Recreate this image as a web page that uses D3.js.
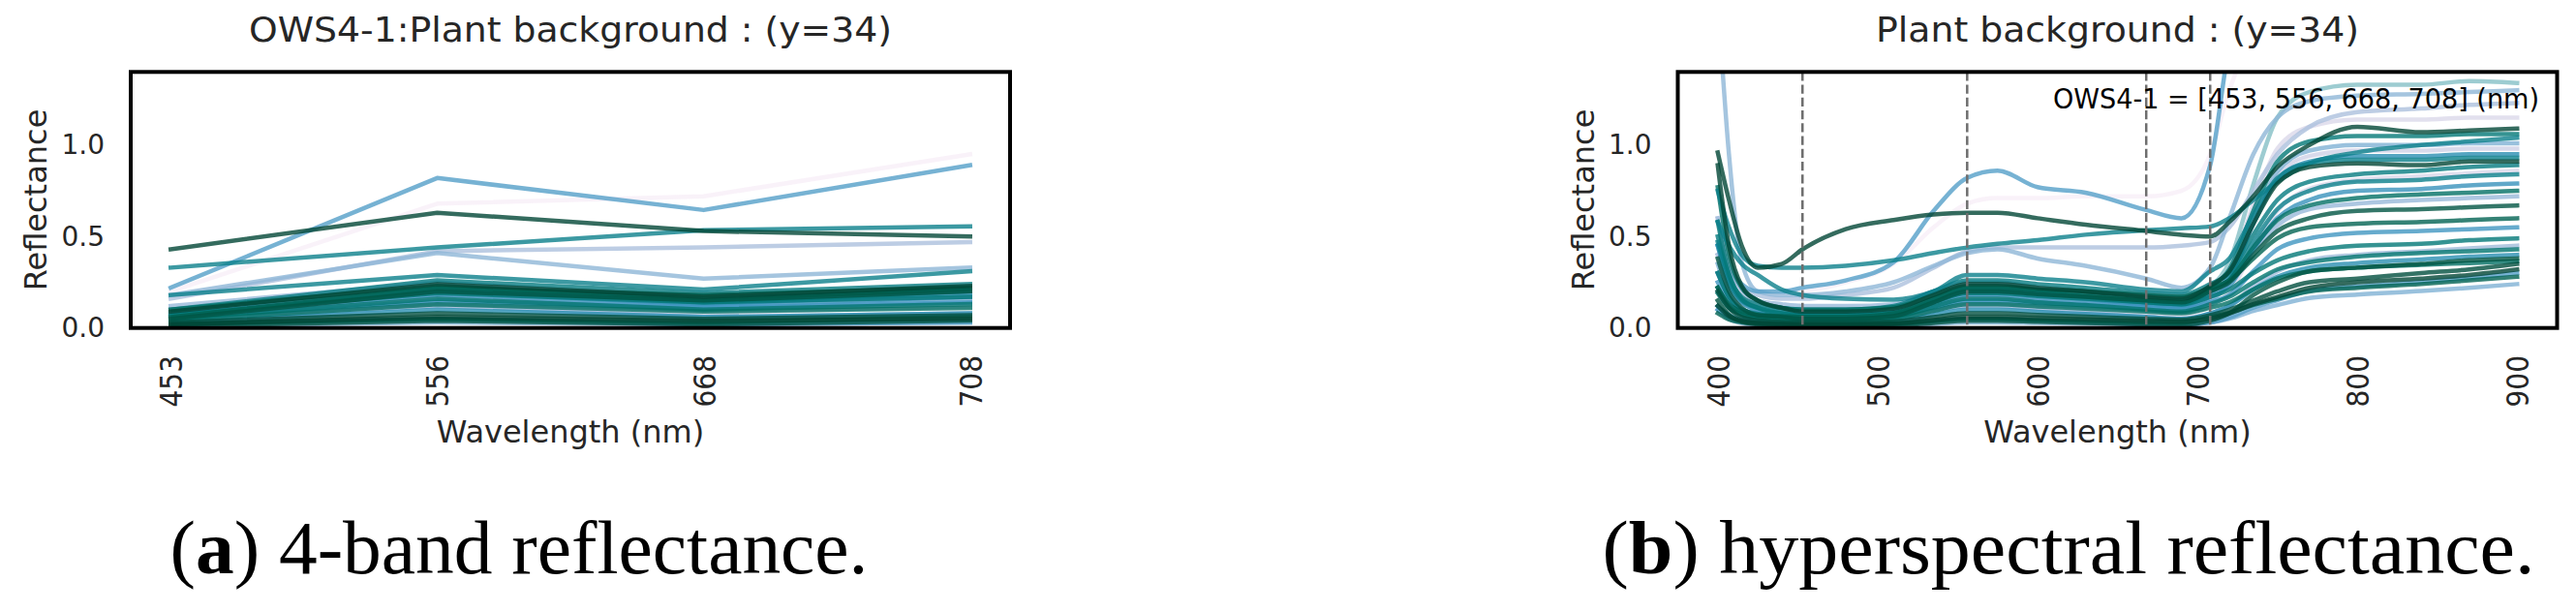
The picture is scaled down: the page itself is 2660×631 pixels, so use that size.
<!DOCTYPE html>
<html><head><meta charset="utf-8">
<script src="https://cdn.jsdelivr.net/npm/d3@7"></script>
<style>body{margin:0;background:#fff;} svg{display:block;}</style>
</head><body>
<svg id="chart" width="2660" height="631"></svg>
<script>
// ---------------- data ----------------
const wavelengths = [400,407,415,425,440,453,480,510,535,556,575,600,630,668,690,708,720,735,750,770,800,840,870,900];
const bandWavelengths = [453,556,668,708];
const bandLabels = ["453","556","668","708"];
const hyperTicks = [400,500,600,700,800,900];
const yTicks = [0.0,0.5,1.0];
const sensorName = "OWS4-1";
const className = "Plant background";
const rowIndex = 34;

const spec_pk  = [0.3,0.26,0.22,0.2,0.19,0.2,0.25,0.35,0.55,0.68,0.71,0.71,0.72,0.72,0.75,0.95,1.3,1.6,1.7,1.7,1.7,1.7,1.7,1.7];
const spec_LT  = [0.45,0.25,0.15,0.106,0.087,0.08,0.08,0.092,0.152,0.2,0.2,0.182,0.164,0.14,0.13,0.22,0.36,0.785,1.15,1.29,1.33,1.33,1.35,1.34];
const spec_L1  = [0.6,0.325,0.19,0.135,0.11,0.1,0.1,0.11,0.16,0.2,0.2,0.176,0.152,0.12,0.11,0.2,0.31,0.675,0.98,1.1,1.14,1.14,1.15,1.15];
const spec_L2  = [0.4,0.224,0.138,0.102,0.086,0.08,0.08,0.089,0.134,0.17,0.17,0.149,0.128,0.1,0.09,0.16,0.26,0.57,0.83,0.94,0.97,0.97,0.98,0.98];
const spec_L3  = [0.3,0.168,0.103,0.077,0.065,0.06,0.06,0.066,0.096,0.12,0.12,0.108,0.096,0.08,0.07,0.12,0.194,0.43,0.64,0.76,0.81,0.83,0.845,0.86];
const spec_p2  = [0.4,0.3,0.22,0.18,0.16,0.16,0.18,0.22,0.33,0.42,0.44,0.44,0.44,0.44,0.45,0.47,0.55,0.75,0.95,1.1,1.18,1.2,1.22,1.23];
const spec_p1  = [1.8,0.95,0.36,0.2,0.18,0.18,0.2,0.25,0.34,0.41,0.43,0.38,0.34,0.27,0.22,0.33,0.6,0.95,1.15,1.24,1.27,1.28,1.29,1.3];
const spec_lb1 = [0.45,0.32,0.24,0.2,0.2,0.22,0.26,0.36,0.64,0.82,0.86,0.77,0.74,0.645,0.6,0.89,1.55,2.0,2.1,2.1,2.1,2.1,2.1,2.1];
const spec_PB2 = [0.6,0.34,0.21,0.15,0.13,0.12,0.12,0.13,0.2,0.25,0.25,0.22,0.2,0.16,0.15,0.2,0.25,0.42,0.56,0.65,0.68,0.7,0.71,0.72];
const spec_PB1 = [0.35,0.185,0.104,0.071,0.056,0.05,0.05,0.059,0.104,0.14,0.14,0.128,0.116,0.1,0.09,0.15,0.25,0.58,0.855,0.97,1.0,1.0,1.01,1.01];
const spec_PB3 = [0.2,0.11,0.07,0.05,0.045,0.04,0.04,0.05,0.09,0.12,0.12,0.1,0.085,0.06,0.05,0.08,0.12,0.23,0.31,0.37,0.4,0.42,0.435,0.45];
const spec_PB4 = [0.1,0.05,0.026,0.016,0.012,0.01,0.01,0.012,0.022,0.03,0.03,0.027,0.024,0.02,0.018,0.03,0.051,0.093,0.125,0.164,0.183,0.202,0.219,0.24];
const spec_PB5 = [0.1,0.056,0.034,0.026,0.022,0.02,0.02,0.023,0.038,0.05,0.05,0.041,0.032,0.02,0.018,0.03,0.057,0.111,0.152,0.203,0.227,0.251,0.273,0.3];
const spec_BL4 = [0.45,0.24,0.14,0.097,0.078,0.07,0.07,0.083,0.148,0.2,0.2,0.179,0.158,0.13,0.12,0.19,0.28,0.57,0.81,0.91,0.94,0.94,0.95,0.95];
const spec_BL1 = [0.3,0.17,0.1,0.08,0.065,0.06,0.06,0.07,0.13,0.18,0.18,0.16,0.14,0.12,0.11,0.17,0.23,0.43,0.6,0.7,0.75,0.76,0.78,0.79];
const spec_BL3 = [0.25,0.14,0.086,0.064,0.054,0.05,0.05,0.06,0.11,0.15,0.15,0.138,0.126,0.11,0.1,0.14,0.18,0.31,0.43,0.49,0.52,0.53,0.54,0.55];
const spec_BL2 = [0.12,0.07,0.046,0.036,0.032,0.03,0.03,0.037,0.072,0.1,0.1,0.088,0.076,0.06,0.05,0.08,0.12,0.21,0.28,0.33,0.355,0.375,0.39,0.4];
const spec_T10 = [0.3,0.17,0.1,0.077,0.065,0.06,0.06,0.075,0.15,0.21,0.21,0.192,0.174,0.15,0.14,0.22,0.32,0.64,0.91,1.02,1.05,1.05,1.06,1.06];
const spec_T4  = [0.5,0.28,0.17,0.13,0.11,0.1,0.1,0.12,0.2,0.26,0.26,0.24,0.22,0.19,0.18,0.24,0.3,0.51,0.7,0.8,0.84,0.86,0.88,0.89];
const spec_T5  = [0.47,0.26,0.15,0.11,0.09,0.08,0.08,0.09,0.16,0.22,0.22,0.2,0.17,0.14,0.13,0.2,0.26,0.47,0.65,0.75,0.8,0.81,0.83,0.84];
const spec_T9  = [0.77,0.4,0.22,0.15,0.11,0.1,0.1,0.113,0.178,0.23,0.23,0.209,0.188,0.16,0.15,0.21,0.264,0.44,0.59,0.67,0.71,0.73,0.74,0.75];
const spec_T6  = [0.58,0.3,0.16,0.11,0.08,0.07,0.07,0.08,0.14,0.19,0.19,0.175,0.16,0.14,0.13,0.17,0.21,0.3,0.37,0.42,0.45,0.46,0.48,0.49];
const spec_T7  = [0.19,0.11,0.075,0.06,0.053,0.05,0.05,0.061,0.116,0.16,0.16,0.14,0.125,0.1,0.09,0.13,0.17,0.25,0.32,0.36,0.39,0.41,0.42,0.43];
const spec_T8  = [0.22,0.12,0.072,0.053,0.044,0.04,0.04,0.049,0.094,0.13,0.13,0.118,0.106,0.09,0.08,0.11,0.14,0.21,0.27,0.31,0.33,0.345,0.355,0.365];
const spec_t2  = [0.58,0.45,0.35,0.29,0.21,0.18,0.16,0.155,0.2,0.29,0.29,0.27,0.25,0.21,0.2,0.31,0.38,0.62,0.82,0.9,0.92,0.92,0.93,0.93];
const spec_t1  = [0.75,0.55,0.4,0.34,0.33,0.33,0.34,0.37,0.41,0.44,0.46,0.48,0.51,0.535,0.545,0.555,0.6,0.7,0.8,0.9,0.96,1.0,1.02,1.04];
const spec_DG4 = [0.22,0.13,0.09,0.07,0.065,0.06,0.06,0.08,0.16,0.22,0.22,0.21,0.2,0.18,0.17,0.22,0.26,0.38,0.49,0.55,0.57,0.58,0.59,0.6];
const spec_DG3 = [0.38,0.2,0.11,0.07,0.06,0.05,0.05,0.065,0.14,0.2,0.2,0.185,0.17,0.15,0.14,0.2,0.25,0.4,0.53,0.6,0.64,0.65,0.66,0.67];
const spec_DG7 = [0.08,0.047,0.031,0.024,0.021,0.02,0.02,0.023,0.038,0.05,0.05,0.044,0.038,0.03,0.028,0.06,0.082,0.126,0.16,0.2,0.22,0.24,0.26,0.28];
const spec_DG8 = [0.15,0.073,0.035,0.02,0.013,0.01,0.01,0.013,0.028,0.04,0.04,0.034,0.028,0.02,0.018,0.04,0.08,0.18,0.25,0.31,0.33,0.35,0.37,0.38];
const spec_DG5 = [0.2,0.11,0.06,0.042,0.033,0.03,0.03,0.035,0.06,0.08,0.08,0.071,0.062,0.05,0.045,0.07,0.1,0.15,0.2,0.25,0.27,0.3,0.32,0.35];
const spec_DG6 = [0.12,0.065,0.038,0.027,0.022,0.02,0.02,0.024,0.044,0.06,0.06,0.054,0.048,0.04,0.035,0.05,0.08,0.13,0.17,0.22,0.25,0.27,0.29,0.32];
const spec_DG2 = [0.89,0.45,0.23,0.15,0.11,0.09,0.09,0.105,0.18,0.24,0.24,0.22,0.2,0.17,0.16,0.23,0.31,0.57,0.79,0.88,0.9,0.89,0.91,0.91];
const spec_dg1 = [0.96,0.7,0.45,0.33,0.35,0.43,0.54,0.59,0.62,0.63,0.63,0.6,0.565,0.53,0.51,0.5,0.58,0.72,0.88,1.0,1.1,1.07,1.08,1.09];

// drawing order
const spectra = [spec_pk, spec_LT, spec_L1, spec_L2, spec_L3, spec_p2, spec_p1, spec_lb1, spec_PB2, spec_PB1, spec_PB3,
  spec_PB4, spec_PB5, spec_BL4, spec_BL1, spec_BL3, spec_BL2, spec_T10, spec_T4, spec_T5, spec_T9, spec_T6,
  spec_T7, spec_T8, spec_t2, spec_t1, spec_DG4, spec_DG3, spec_DG7, spec_DG8, spec_DG5, spec_DG6, spec_DG2, spec_dg1];
// style: position of each spectrum on the PuBuGn colormap, and its opacity
const spectraShade = [0.05, 0.75, 0.2, 0.25, 0.2, 0.35, 0.42, 0.55, 0.4, 0.45, 0.38,
  0.45, 0.55, 0.65, 0.62, 0.6, 0.65, 0.8, 0.78, 0.75, 0.85, 0.8,
  0.82, 0.85, 0.75, 0.75, 0.9, 0.95, 0.9, 0.95, 0.97, 1.0, 1.0, 1.0];
const spectraOpacity = spectra.map((s, i) => i === 1 ? 0.4 : 0.8);

// ---------------- layout ----------------
const svg = d3.select("#chart");
const FONT = "'DejaVu Sans', sans-serif";
const TXT = "#262626";
const yTop = 74.3, yBot = 338.7;
const panels = [
  {x0: 135, x1: 1043, title: `${sensorName}:${className} : (y=${rowIndex})`, titleLen: 664, cap: ["a", ") 4-band reflectance."], capX: 536, capLen: 721},
  {x0: 1732.5, x1: 2640.5, title: `${className} : (y=${rowIndex})`, titleLen: 499, cap: ["b", ") hyperspectral reflectance."], capX: 2136, capLen: 963}
];

const y = d3.scaleLinear().domain([0, 1.4]).range([yBot, yTop]);
const color = t => d3.interpolatePuBuGn(t);

// band values taken from spectra at the band wavelengths
const bandIdx = bandWavelengths.map(w => wavelengths.indexOf(w));
const bandSeries = spectra.map(s => bandIdx.map(i => s[i]));

const defs = svg.append("defs");
panels.forEach((p, k) => {
  defs.append("clipPath").attr("id", "clip" + k)
    .append("rect").attr("x", p.x0).attr("y", yTop).attr("width", p.x1 - p.x0).attr("height", yBot - yTop);
});

function drawFrameAndLabels(p) {
  svg.append("rect").attr("x", p.x0).attr("y", yTop).attr("width", p.x1 - p.x0).attr("height", yBot - yTop)
    .attr("fill", "none").attr("stroke", "#000").attr("stroke-width", 4);
  const ya = svg.append("g").attr("transform", `translate(${p.x0},0)`)
    .call(d3.axisLeft(y).tickValues(yTicks).tickFormat(d3.format(".1f")).tickSize(0).tickPadding(27));
  ya.select(".domain").remove();
  ya.selectAll("text").attr("font-family", FONT).attr("font-size", 28).attr("fill", TXT);
  const cx = (p.x0 + p.x1) / 2;
  svg.append("text").attr("x", cx).attr("y", 43).attr("text-anchor", "middle")
    .attr("font-family", FONT).attr("font-size", 36).attr("fill", TXT)
    .attr("textLength", p.titleLen).attr("lengthAdjust", "spacingAndGlyphs").text(p.title);
  svg.append("text").attr("x", cx).attr("y", 457).attr("text-anchor", "middle")
    .attr("font-family", FONT).attr("font-size", 32).attr("fill", TXT).text("Wavelength (nm)");
  svg.append("text").attr("transform", `translate(${p.x0 - 87},${(yTop + yBot) / 2}) rotate(-90)`)
    .attr("text-anchor", "middle").attr("font-family", FONT).attr("font-size", 32).attr("fill", TXT)
    .text("Reflectance");
  const cap = svg.append("text").attr("x", p.capX).attr("y", 592).attr("text-anchor", "middle")
    .attr("font-family", "'Liberation Serif', serif").attr("font-size", 78).attr("fill", "#000")
    .attr("textLength", p.capLen).attr("lengthAdjust", "spacingAndGlyphs");
  cap.append("tspan").text("(");
  cap.append("tspan").attr("font-weight", "bold").text(p.cap[0]);
  cap.append("tspan").text(p.cap[1]);
}

function styleXTicks(g) {
  g.select(".domain").remove();
  g.selectAll("text")
    .attr("y", null).attr("x", null)
    .attr("dy", "0.365em").attr("text-anchor", "end")
    .attr("transform", "translate(0,28.3) scale(1.12,1) rotate(-90)")
    .attr("font-family", FONT).attr("font-size", 28).attr("fill", TXT);
}

function styleLines(sel) {
  sel.attr("fill", "none")
    .attr("stroke", (d, i) => color(spectraShade[i])).attr("stroke-opacity", (d, i) => spectraOpacity[i])
    .attr("stroke-width", 4.5).attr("stroke-linecap", "square").attr("stroke-linejoin", "round");
}

// ---------- left panel: 4-band ----------
{
  const p = panels[0];
  const x = d3.scaleLinear().domain([-0.15, 3.15]).range([p.x0, p.x1]);
  const line = d3.line().x((d, i) => x(i)).y(d => y(d));
  svg.append("g").attr("clip-path", "url(#clip0)")
    .selectAll("path").data(bandSeries).join("path").attr("d", line).call(styleLines);
  const xa = svg.append("g").attr("transform", `translate(0,${yBot})`)
    .call(d3.axisBottom(x).tickValues(d3.range(bandLabels.length)).tickFormat(i => bandLabels[i]).tickSize(0));
  styleXTicks(xa);
  drawFrameAndLabels(p);
}

// ---------- right panel: hyperspectral ----------
{
  const p = panels[1];
  const x = d3.scaleLinear().domain([375, 925]).range([p.x0, p.x1]);
  const line = d3.line().x((d, i) => x(wavelengths[i])).y(d => y(d)).curve(d3.curveMonotoneX);
  const g = svg.append("g").attr("clip-path", "url(#clip1)");
  g.selectAll("path.spec").data(spectra).join("path").attr("class", "spec").attr("d", line).call(styleLines);
  g.selectAll("line.band").data(bandWavelengths).join("line").attr("class", "band")
    .attr("x1", d => x(d)).attr("x2", d => x(d)).attr("y1", yTop).attr("y2", yBot)
    .attr("stroke", "#6e6e6e").attr("stroke-width", 2.5).attr("stroke-dasharray", "9.25,4");
  const xa = svg.append("g").attr("transform", `translate(0,${yBot})`)
    .call(d3.axisBottom(x).tickValues(hyperTicks).tickFormat(d3.format("d")).tickSize(0));
  styleXTicks(xa);
  drawFrameAndLabels(p);
  svg.append("text").attr("x", 2622).attr("y", 112).attr("text-anchor", "end")
    .attr("font-family", FONT).attr("font-size", 28).attr("fill", "#000")
    .attr("textLength", 502).attr("lengthAdjust", "spacingAndGlyphs")
    .text(`${sensorName} = [${bandLabels.join(", ")}] (nm)`);
}
</script>
</body></html>
